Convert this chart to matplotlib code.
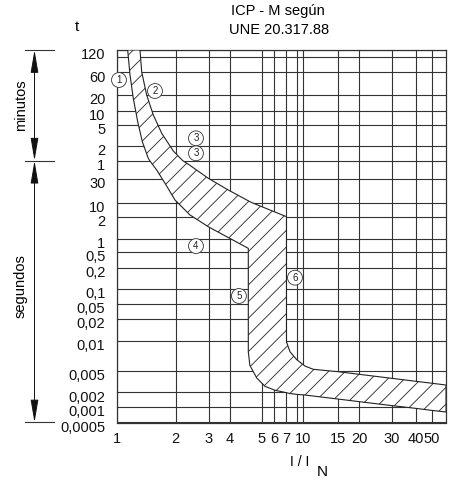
import numpy as np
import matplotlib
matplotlib.use('Agg')
import matplotlib.pyplot as plt
from matplotlib import transforms

plt.rcParams['font.family'] = ['Liberation Sans', 'DejaVu Sans']
plt.rcParams['hatch.linewidth'] = 0.6

# printed grid (I/In and time in seconds)
x_ticks = [1, 2, 3, 4, 5, 6, 7, 10, 15, 20, 30, 40, 50]
x_labels = [str(v) for v in x_ticks]
x_extra = [8]
y_ticks = [7200, 3600, 1200, 600, 300, 120, 60, 30, 10, 2, 1, 0.5, 0.2, 0.1,
           0.05, 0.02, 0.01, 0.005, 0.002, 0.001, 0.0005]
y_labels = ['120', '60', '20', '10', '5', '2', '1', '30', '10', '2', '1', '0,5',
            '0,2', '0,1', '0,05', '0,02', '0,01', '0,005', '0,002', '0,001', '0,0005']
y_extra = [5400]

# the sheet is not a true log grid, so the scale follows where each line sits
x_knots = [1, 2, 3, 4, 5, 6, 7, 8, 10, 15, 20, 30, 40, 50, 60]
x_knot_pos = [117.3, 175.7, 209, 230, 261.7, 274, 286, 296.7, 303.3, 338.3,
              359.3, 391.7, 416, 431.7, 446]
y_knots = [7200, 5400, 3600, 1200, 600, 300, 120, 60, 30, 10, 2, 1, 0.5, 0.2,
           0.1, 0.05, 0.02, 0.01, 0.005, 0.002, 0.001, 0.0005]
y_knot_pos = [50, 57, 72.5, 95, 111.3, 125, 146, 160.7, 179, 202.7, 217.3, 239,
              251.7, 267.7, 289.5, 304.3, 319.3, 341, 371, 392.5, 407, 422.5]

# trip band: lower limit (curve 1) and upper limit (curve 2)
low_x = [1.131, 1.163, 1.209, 1.274, 1.346, 1.371, 1.445, 1.47, 1.596, 1.706,
         1.762, 1.984, 2.05, 2.38, 2.49, 2.974, 3.823, 4.03, 4.55, 4.55,
         4.60, 4.70, 4.83, 5.25, 6.08, 6.97, 7.36, 8.94, 10, 15,
         20, 30, 34.8, 40, 50, 60]
low_t = [7200, 3186, 1043, 354, 145, 120, 67, 60, 42.2, 30,
         24.6, 11.3, 10, 2.58, 2, 1.48, 1.076, 1, 0.60, 0.0078,
         0.0057, 0.005, 0.0037, 0.0026, 0.0022, 0.002, 0.0019, 0.0018, 0.00179, 0.00146,
         0.00129, 0.00107, 0.001, 0.00094, 0.00086, 0.0008]
up_x = [1.309, 1.336, 1.417, 1.533, 1.694, 1.87, 1.944, 2.18, 2.323, 2.974,
        3.908, 4.60, 4.67, 5.655, 7.04, 7.04, 7.36, 8.0, 10.2, 11.23,
        13.7, 15, 20, 30, 40, 50, 60]
up_t = [7200, 3650, 1200, 498, 209, 120, 94.8, 60, 52.95, 30.8,
        18.0, 10.5, 10, 4.47, 2.14, 0.0098, 0.0078, 0.0065, 0.0056, 0.0052,
        0.005, 0.00485, 0.00434, 0.00366, 0.00322, 0.00297, 0.00275]

# circled reference numbers
mark_txt = ['1', '2', '3', '3', '4', '5', '6']
mark_x = [1.02, 1.564, 2.56, 2.56, 2.56, 4.26, 7.83]
mark_t = [2496, 1459, 168, 85, 0.68, 0.0738, 0.1456]


def make_scale(knots, pos, flip=False):
    lk = np.log10(np.asarray(knots, float))
    p = np.asarray(pos, float)
    if flip:
        p = -p
    order = np.argsort(lk)
    lk, p = lk[order], p[order]

    def fwd(v):
        v = np.clip(np.asarray(v, float), 1e-12, None)
        return np.interp(np.log10(v), lk, p)

    def inv(u):
        return 10 ** np.interp(np.asarray(u, float), p, lk)
    return fwd, inv


W, H = 450, 486
fig = plt.figure(figsize=(W / 100, H / 100), dpi=100)
ax = fig.add_axes([117.3 / W, 1 - 422.5 / H, (446 - 117.3) / W, (422.5 - 50) / H])

ax.set_xscale('function', functions=make_scale(x_knots, x_knot_pos))
ax.set_yscale('function', functions=make_scale(y_knots, y_knot_pos, flip=True))
ax.set_xlim(1, 60)
ax.set_ylim(0.0005, 7200)

ax.set_xticks(x_ticks + x_extra, x_labels + [''])
ax.set_yticks(y_ticks + y_extra, y_labels + [''])
ax.minorticks_off()
ax.tick_params(length=0, labelsize=10.5, colors='#111')
ax.tick_params(axis='y', pad=8.5)
ax.tick_params(axis='x', pad=6.5)
ax.grid(True, color='#333', lw=0.8)
for s in ax.spines.values():
    s.set_color('#333')
    s.set_linewidth(0.9)

off = transforms.ScaledTranslation(0, -0.035, fig.dpi_scale_trans)
for lab in ax.get_yticklabels():
    lab.set_transform(lab.get_transform() + off)

# hatched band
bx = low_x + [60] + up_x[::-1]
bt = low_t + [up_t[-1]] + up_t[::-1]
ax.fill(bx, bt, facecolor='white', edgecolor='#222', lw=0.8, hatch='//', zorder=3)

for s, mx, mt in zip(mark_txt, mark_x, mark_t):
    ax.text(mx, mt, s, fontsize=7, ha='center', va='center', color='#222', zorder=5,
            clip_on=False,
            bbox=dict(boxstyle='circle,pad=0.25', fc='white', ec='#333', lw=0.6))

# titles and axis names
fig.text(278 / W, 1 - 11 / H, 'ICP - M según', ha='center', va='center', fontsize=10.5)
fig.text(279 / W, 1 - 30 / H, 'UNE 20.317.88', ha='center', va='center', fontsize=10.5)
fig.text(77 / W, 1 - 27 / H, 't', ha='center', va='center', fontsize=11)
fig.text(300 / W, 1 - 462 / H, 'I / I', ha='center', va='center', fontsize=10)
fig.text(322 / W, 1 - 472 / H, 'N', ha='center', va='center', fontsize=11)

# minutes / seconds dimension lines on the left
tr = transforms.blended_transform_factory(fig.transFigure, ax.transData)
dim_x = 34.5 / W
for yv in [7200, 60, 0.0005]:
    ax.plot([25 / W, 54 / W], [yv, yv], transform=tr, color='#333', lw=0.8, clip_on=False)
for y0, y1 in [(7200, 60), (60, 0.0005)]:
    ax.annotate('', xy=(dim_x, y0), xytext=(dim_x, y1), xycoords=tr, textcoords=tr,
                arrowprops=dict(arrowstyle='<|-|>,head_length=1.0,head_width=0.17',
                                mutation_scale=14, color='#111', lw=0.7,
                                shrinkA=0, shrinkB=0))
fig.text(21 / W, 1 - 105 / H, 'minutos', rotation=90, ha='center', va='center', fontsize=10.5)
fig.text(21 / W, 1 - 286 / H, 'segundos', rotation=90, ha='center', va='center', fontsize=10.5)

fig.savefig('out.png', dpi=100)
